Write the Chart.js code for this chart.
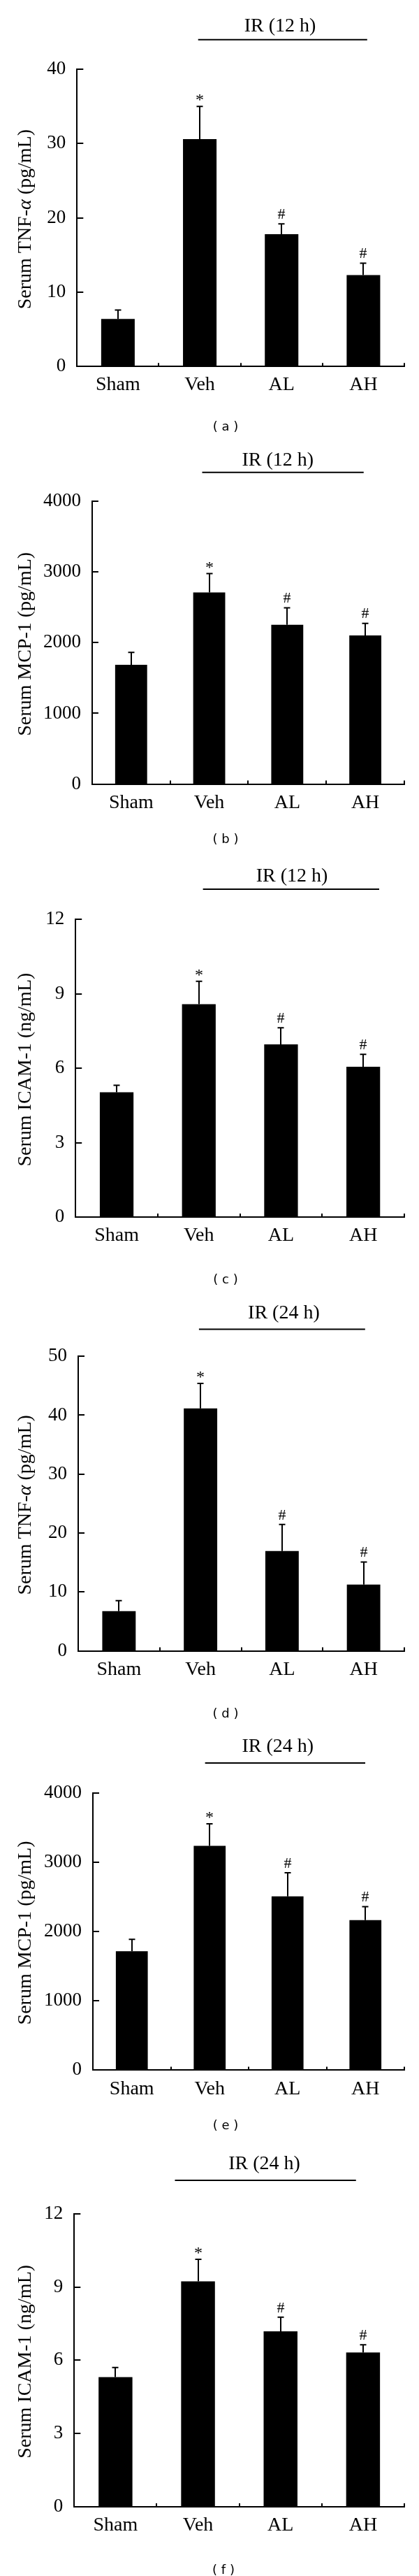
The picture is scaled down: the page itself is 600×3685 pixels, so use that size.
<!DOCTYPE html>
<html><head><meta charset="utf-8">
<script src="https://cdn.jsdelivr.net/npm/chart.js@4.4.1/dist/chart.umd.min.js"></script>
<style>
html,body{margin:0;padding:0;background:#fff;}
#page{position:relative;width:600px;height:3685px;overflow:hidden;background:#fff;}
#page canvas{position:absolute;left:0;}
</style></head><body><div id="page"></div>
<script>
// ---- data ----
const categories = ['Sham', 'Veh', 'AL', 'AH'];
const marks = ['', '*', '#', '#'];
const tnf12 = [6.4, 30.6, 17.8, 12.3];
const tnf12Err = [1.2, 4.4, 1.4, 1.6];
const mcp12 = [1687, 2711, 2254, 2102];
const mcp12Err = [176, 266, 238, 171];
const icam12 = [5.03, 8.58, 6.96, 6.06];
const icam12Err = [0.28, 0.92, 0.67, 0.50];
const tnf24 = [6.74, 41.15, 16.95, 11.24];
const tnf24Err = [1.78, 4.25, 4.49, 3.83];
const mcp24 = [1714, 3233, 2505, 2163];
const mcp24Err = [171, 318, 342, 195];
const icam24 = [5.31, 9.23, 7.18, 6.32];
const icam24Err = [0.39, 0.90, 0.58, 0.31];
const tnf12Ticks = [0, 10, 20, 30, 40];
const tnf24Ticks = [0, 10, 20, 30, 40, 50];
const mcpTicks = [0, 1000, 2000, 3000, 4000];
const icamTicks = [0, 3, 6, 9, 12];
const groupLabel12 = 'IR (12 h)';
const groupLabel24 = 'IR (24 h)';
const titleTNF = [['Serum TNF-', false], ['\u03B1', true], [' (pg/mL)', false]];
const titleMCP = [['Serum MCP-1 (pg/mL)', false]];
const titleICAM = [['Serum ICAM-1 (ng/mL)', false]];
const panelLetters = ['a', 'b', 'c', 'd', 'e', 'f'];

// ---- layout (positions / sizes only) ----
const layouts = [
  {top: 0,    h: 620, plotTop: 99,     zero: 524.3,  axisX: 110.3, br: [0.980, 3.046, 1.981], lineUp: 42.3, textUp: 11.7, lblX: 323, lblY: 611},
  {top: 620,  h: 595, plotTop: 717.2,  zero: 1121.5, axisX: 131.9, br: [0.910, 2.979, 1.878], lineUp: 41.5, textUp: 9.5,  lblX: 323, lblY: 1201},
  {top: 1215, h: 630, plotTop: 1315.1, zero: 1741.1, axisX: 108.2, br: [1.050, 3.194, 2.132], lineUp: 43.1, textUp: 11.4, lblX: 323, lblY: 1831},
  {top: 1845, h: 620, plotTop: 1940.2, zero: 2361.5, axisX: 112.0, br: [0.981, 3.019, 2.022], lineUp: 38.7, textUp: 15.8, lblX: 323, lblY: 2452.5},
  {top: 2465, h: 590, plotTop: 2564.5, zero: 2961.4, axisX: 133.0, br: [0.941, 2.998, 1.874], lineUp: 42.6, textUp: 16.2, lblX: 323, lblY: 3041.5},
  {top: 3055, h: 630, plotTop: 3166.7, zero: 3586.0, axisX: 106.3, br: [0.720, 2.914, 1.804], lineUp: 47.7, textUp: 16.4, lblX: 320, lblY: 3677}
];

const panels = [
  {values: tnf12,  errors: tnf12Err,  ticks: tnf12Ticks, title: titleTNF,  group: groupLabel12},
  {values: mcp12,  errors: mcp12Err,  ticks: mcpTicks,   title: titleMCP,  group: groupLabel12},
  {values: icam12, errors: icam12Err, ticks: icamTicks,  title: titleICAM, group: groupLabel12},
  {values: tnf24,  errors: tnf24Err,  ticks: tnf24Ticks, title: titleTNF,  group: groupLabel24},
  {values: mcp24,  errors: mcp24Err,  ticks: mcpTicks,   title: titleMCP,  group: groupLabel24},
  {values: icam24, errors: icam24Err, ticks: icamTicks,  title: titleICAM, group: groupLabel24}
];

const SERIF = '"Liberation Serif", "Times New Roman", Times, serif';
const SANS = '"DejaVu Sans", Verdana, sans-serif';

const decor = {
  id: 'decor',
  afterDraw(chart) {
    const p = chart.options.plugins.decor;
    const L = p.layout;
    const ctx = chart.ctx, xs = chart.scales.x, ys = chart.scales.y, ca = chart.chartArea;
    ctx.save();
    ctx.strokeStyle = '#000'; ctx.fillStyle = '#000'; ctx.lineWidth = 2; ctx.lineCap = 'butt';
    // inward y ticks
    ys.ticks.forEach(t => {
      const py = Math.round(ys.getPixelForValue(t.value));
      ctx.beginPath(); ctx.moveTo(ca.left, py); ctx.lineTo(ca.left + 9, py); ctx.stroke();
    });
    // inward x ticks at category boundaries
    for (let i = 0; i < categories.length; i++) {
      const px = Math.round(xs.getPixelForValue(i + 0.5));
      ctx.beginPath(); ctx.moveTo(px, ca.bottom); ctx.lineTo(px, ca.bottom - 5); ctx.stroke();
    }
    // error bars + significance marks
    const meta = chart.getDatasetMeta(0);
    meta.data.forEach((bar, i) => {
      const yt = ys.getPixelForValue(p.values[i] + p.errors[i]);
      const bx = Math.round(bar.x);
      ctx.beginPath();
      ctx.moveTo(bx, bar.y); ctx.lineTo(bx, yt);
      ctx.moveTo(bx - 4.5, yt); ctx.lineTo(bx + 4.5, yt);
      ctx.stroke();
      const m = marks[i];
      if (m) {
        ctx.font = (m === '*' ? '24px ' : '22px ') + SERIF;
        ctx.textAlign = 'center'; ctx.textBaseline = 'alphabetic';
        ctx.fillText(m, bx, yt - (m === '*' ? 2 : 7.3));
      }
    });
    // group bracket
    const ly = ca.top - L.lineUp;
    ctx.beginPath();
    ctx.moveTo(xs.getPixelForValue(L.br[0]), ly);
    ctx.lineTo(xs.getPixelForValue(L.br[1]), ly);
    ctx.stroke();
    ctx.font = '28px ' + SERIF; ctx.textAlign = 'center'; ctx.textBaseline = 'alphabetic';
    ctx.fillText(p.group, xs.getPixelForValue(L.br[2]), ly - L.textUp);
    // y-axis title (rotated, mixed italic)
    ctx.save();
    ctx.translate(43.5, (ca.top + ca.bottom) / 2 + 2);
    ctx.rotate(-Math.PI / 2);
    let total = 0;
    p.title.forEach(s => { ctx.font = (s[1] ? 'italic ' : '') + '28px ' + SERIF; total += ctx.measureText(s[0]).width; });
    let cx = -total / 2;
    ctx.textAlign = 'left'; ctx.textBaseline = 'alphabetic';
    p.title.forEach(s => { ctx.font = (s[1] ? 'italic ' : '') + '28px ' + SERIF; ctx.fillText(s[0], cx, 0); cx += ctx.measureText(s[0]).width; });
    ctx.restore();
    // panel letter
    ctx.font = '18px ' + SANS; ctx.textAlign = 'center'; ctx.textBaseline = 'middle';
    ctx.fillText('( ' + p.letter + ' )', L.lblX, L.lblY - L.top);
    ctx.restore();
  }
};

const page = document.getElementById('page');
panels.forEach((P, k) => {
  const L = layouts[k];
  const cv = document.createElement('canvas');
  cv.width = 600; cv.height = L.h;
  cv.style.top = L.top + 'px';
  cv.style.width = '600px'; cv.style.height = L.h + 'px';
  page.appendChild(cv);
  const xAxisH = 40;
  const padTop = L.plotTop - L.top;
  const padBottom = L.h - (L.zero - L.top) - xAxisH;
  new Chart(cv.getContext('2d'), {
    type: 'bar',
    data: {
      labels: categories,
      datasets: [{data: P.values, backgroundColor: '#000', borderWidth: 0, barPercentage: 0.41, categoryPercentage: 1}]
    },
    options: {
      responsive: false, animation: false, devicePixelRatio: 1,
      layout: {padding: {top: padTop, left: 0, right: 21, bottom: padBottom}},
      plugins: {
        legend: {display: false}, tooltip: {enabled: false},
        decor: {values: P.values, errors: P.errors, title: P.title, group: P.group, letter: panelLetters[k], layout: L}
      },
      scales: {
        x: {
          grid: {display: true, drawOnChartArea: false, drawTicks: false},
          border: {display: true, color: '#000', width: 2},
          ticks: {color: '#000', font: {family: SERIF, size: 28}, padding: 10, maxRotation: 0, autoSkip: false},
          afterFit(s) { s.height = xAxisH; }
        },
        y: {
          min: P.ticks[0], max: P.ticks[P.ticks.length - 1],
          grid: {display: true, drawOnChartArea: false, drawTicks: false},
          border: {display: true, color: '#000', width: 2},
          ticks: {color: '#000', font: {family: SERIF, size: 27}, padding: 16, callback: v => String(v)},
          afterBuildTicks(s) { s.ticks = P.ticks.map(v => ({value: v})); },
          afterFit(s) { s.width = L.axisX; }
        }
      }
    },
    plugins: [decor]
  });
});
</script>
</body></html>
